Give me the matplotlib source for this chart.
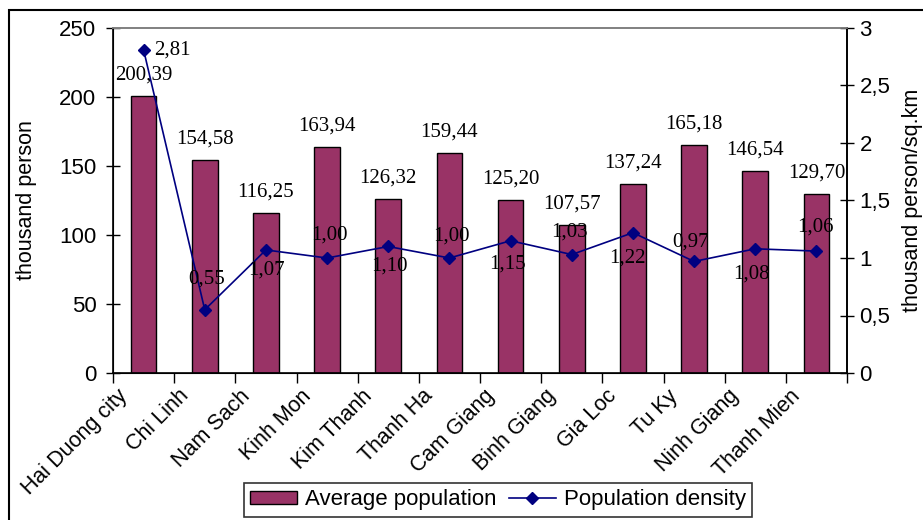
import matplotlib.pyplot as plt
from matplotlib.patches import Rectangle
from matplotlib.ticker import FuncFormatter, FixedLocator
import matplotlib.transforms as mtransforms
import numpy as np

districts = ["Hai Duong city", "Chi Linh", "Nam Sach", "Kinh Mon", "Kim Thanh",
             "Thanh Ha", "Cam Giang", "Binh Giang", "Gia Loc", "Tu Ky",
             "Ninh Giang", "Thanh Mien"]
avg_pop = [200.39, 154.58, 116.25, 163.94, 126.32, 159.44,
           125.20, 107.57, 137.24, 165.18, 146.54, 129.70]
density = [2.81, 0.55, 1.07, 1.00, 1.10, 1.00,
           1.15, 1.03, 1.22, 0.97, 1.08, 1.06]

# where each density label sits relative to its marker, in pixels
dens_offsets = [(29, 0), (2, 31), (1, -20), (2, 23), (1, -20), (2, 22),
                (-3, -23), (-2, 23), (-5, -25), (-4, 19), (-4, -25), (-1, 24)]

plt.rcParams['font.family'] = ['Liberation Sans', 'DejaVu Sans']
bar_color = "#993366"
line_color = "#000080"

def comma(v, pos=None):
    s = ("%g" % v)
    return s.replace(".", ",")

fig = plt.figure(figsize=(9.23, 5.2), dpi=100)
ax = fig.add_axes([113/923, 1-373/520, (847-113)/923, (373-28)/520])

x = np.arange(len(districts))
ax.bar(x, avg_pop, width=0.42, color=bar_color, edgecolor="black", linewidth=1.0, zorder=2)
for xi, v in zip(x, avg_pop):
    ax.annotate(("%.2f" % v).replace(".", ","), (xi, v), xytext=(0, 21),
                textcoords="offset pixels", ha="center", va="center",
                fontsize=15, family="Liberation Serif", zorder=3)

ax.set_xlim(-0.5, len(districts) - 0.5)
ax.set_ylim(0, 250)
ax.set_yticks([0, 50, 100, 150, 200, 250])
ax.tick_params(axis="y", direction="inout", length=10, width=1, labelsize=16, pad=7)
ax.set_ylabel("thousand person", fontsize=15.5, labelpad=16)

ax.set_xticks(x)
ax.set_xticklabels(districts, rotation=45, ha="right", fontsize=15.5)
ax.xaxis.set_minor_locator(FixedLocator(np.arange(-0.5, len(districts), 1.0)))
ax.tick_params(axis="x", which="major", length=0, pad=9)
ax.tick_params(axis="x", which="minor", direction="out", length=7, width=1)
shift = mtransforms.ScaledTranslation(-12/100, 0, fig.dpi_scale_trans)
for lbl in ax.get_xticklabels():
    lbl.set_transform(lbl.get_transform() + shift)

for side in ["left", "bottom", "right"]:
    ax.spines[side].set_color("black")
    ax.spines[side].set_linewidth(1.2)
ax.spines["top"].set_color("#808080")
ax.spines["top"].set_linewidth(1.2)

ax2 = ax.twinx()
line, = ax2.plot(x, density, color=line_color, linewidth=1.2, marker="D",
                 markersize=6.5, markerfacecolor=line_color, markeredgecolor=line_color, zorder=4)
ax2.set_ylim(0, 3)
ax2.set_yticks([0, 0.5, 1, 1.5, 2, 2.5, 3])
ax2.yaxis.set_major_formatter(FuncFormatter(comma))
ax2.tick_params(axis="y", direction="inout", length=10, width=1, labelsize=16, pad=4)
ax2.set_ylabel("thousand person/sq.km", fontsize=15.5, labelpad=8)
ax2.spines["right"].set_linewidth(1.2)
ax2.spines["top"].set_color("#808080")
ax2.spines["top"].set_linewidth(1.2)
for (xi, v), (dx, dy) in zip(zip(x, density), dens_offsets):
    ax2.annotate(("%.2f" % v).replace(".", ","), (xi, v), xytext=(dx, dy),
                 textcoords="offset pixels", ha="center", va="center",
                 fontsize=15, family="Liberation Serif", zorder=5)

bars_handle = Rectangle((0, 0), 1, 1, facecolor=bar_color, edgecolor="black", linewidth=1.0)
leg = fig.legend([bars_handle, line], ["Average population", "Population density"],
                 loc="center", bbox_to_anchor=(498/923, 1-500/520), ncol=2,
                 fontsize=16, frameon=True, fancybox=False, edgecolor="black",
                 handlelength=2.1, handleheight=0.55, columnspacing=0.55,
                 handletextpad=0.36, borderpad=0.3, borderaxespad=0)
leg.get_frame().set_linewidth(1.2)

# outer chart border
fig.patches.append(Rectangle((9/923, -0.1), 1.2, 1-10/520+0.1, transform=fig.transFigure,
                             fill=False, edgecolor="black", linewidth=1.5))

fig.savefig("out.png", dpi=100)
